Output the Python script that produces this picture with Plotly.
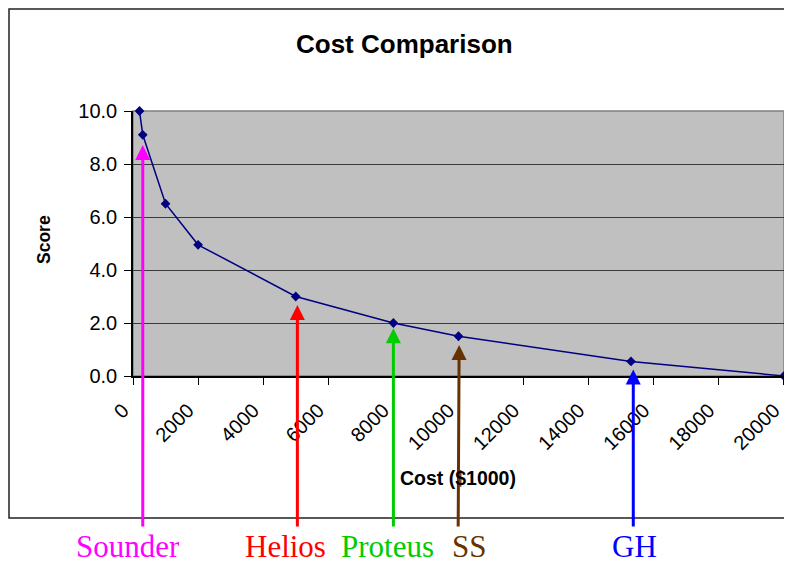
import plotly.graph_objects as go

# ---- data ----
cost = [200, 300, 1000, 2000, 5000, 8000, 10000, 15300, 20000]
score = [10.0, 9.1, 6.5, 4.95, 3.0, 2.0, 1.5, 0.55, 0.0]

arrow_names = ["Sounder", "Helios", "Proteus", "SS", "GH"]
arrow_cost = [300, 5050, 8000, 10020, 15370]
arrow_tail_cost = [300, 5050, 8000, 9990, 15370]
arrow_tip = [8.72, 2.68, 1.80, 1.17, 0.25]
arrow_colors = ["#FF00FF", "#FF0000", "#00CC00", "#663300", "#0000FF"]
label_centers_px = [128, 285, 387.5, 469, 634]

x_ticks = list(range(0, 20001, 2000))
y_ticks = [0, 2, 4, 6, 8, 10]

# ---- geometry helpers (window pixel -> paper); page body has an 8px margin ----
OFF = 8
W, H = 792 - OFF, 563 - OFF
L, R, T, B = 133 - OFF, 8, 111 - OFF, 187
PW, PH = W - L - R, H - T - B


def px(x):
    return (x - OFF - L) / PW


def py(y):
    return (H - B - (y - OFF)) / PH


SANS = "Liberation Sans, Arial, sans-serif"
SERIF = "Liberation Serif, Times New Roman, serif"

fig = go.Figure()
fig.add_trace(go.Scatter(
    x=cost, y=score, mode="lines+markers",
    line=dict(color="#000080", width=1.5),
    marker=dict(symbol="diamond", size=7.5, color="#000080"),
    cliponaxis=False, showlegend=False,
))

annotations = []
tail_y = py(528) * 10  # data value at window pixel row 528
for nm, xc, xt, tip, col in zip(arrow_names, arrow_cost, arrow_tail_cost, arrow_tip, arrow_colors):
    annotations.append(dict(
        x=xc, y=tip, xref="x", yref="y",
        ax=xt, ay=tail_y, axref="x", ayref="y",
        text="", showarrow=True, arrowhead=2, arrowsize=1,
        arrowwidth=3, arrowcolor=col, standoff=0,
    ))
for nm, cx, col in zip(arrow_names, label_centers_px, arrow_colors):
    annotations.append(dict(
        x=px(cx), y=py(546.5), xref="paper", yref="paper",
        text=nm, showarrow=False, xanchor="center", yanchor="middle",
        font=dict(family=SERIF, size=31, color=col),
    ))
annotations.append(dict(
    x=px(404), y=py(44), xref="paper", yref="paper", text="<b>Cost Comparison</b>",
    showarrow=False, xanchor="center", yanchor="middle",
    font=dict(family=SANS, size=26, color="black"),
))
annotations.append(dict(
    x=px(458), y=py(478), xref="paper", yref="paper", text="<b>Cost ($1000)</b>",
    showarrow=False, xanchor="center", yanchor="middle",
    font=dict(family=SANS, size=19.5, color="black"),
))
annotations.append(dict(
    x=px(44), y=py(240), xref="paper", yref="paper", text="<b>Score</b>",
    showarrow=False, xanchor="center", yanchor="middle", textangle=-90,
    font=dict(family=SANS, size=17.5, color="black"),
))

shapes = [
    dict(type="rect", xref="paper", yref="paper",
         x0=px(9), x1=px(810), y0=py(518), y1=py(9),
         line=dict(color="#222222", width=1.5), layer="below"),
    dict(type="rect", xref="paper", yref="paper", x0=0, x1=1, y0=0, y1=1,
         line=dict(color="#808080", width=1.5), layer="below"),
]

fig.update_layout(
    width=W, height=H,
    margin=dict(l=L, r=R, t=T, b=B),
    paper_bgcolor="white", plot_bgcolor="#C0C0C0",
    annotations=annotations, shapes=shapes,
    font=dict(family=SANS, size=20, color="black"),
)
fig.update_xaxes(
    range=[0, 20000.5], tickvals=x_ticks, ticktext=[str(v) for v in x_ticks],
    tickangle=-45, ticks="outside", ticklen=7, tickcolor="black",
    ticklabeloverflow="allow", ticklabelshift=-10, ticklabelstandoff=6,
    showline=True, linecolor="black", linewidth=1.5, showgrid=False,
    zeroline=False, tickfont=dict(family=SANS, size=20),
)
fig.update_yaxes(
    range=[0, 10], tickvals=y_ticks, tickformat=".1f",
    ticks="outside", ticklen=7, tickcolor="black", ticklabelstandoff=3,
    showline=True, linecolor="black", linewidth=1.5,
    showgrid=True, gridcolor="#3a3a3a", gridwidth=1,
    zeroline=False, tickfont=dict(family=SANS, size=20),
)

fig.write_html("out.html")
